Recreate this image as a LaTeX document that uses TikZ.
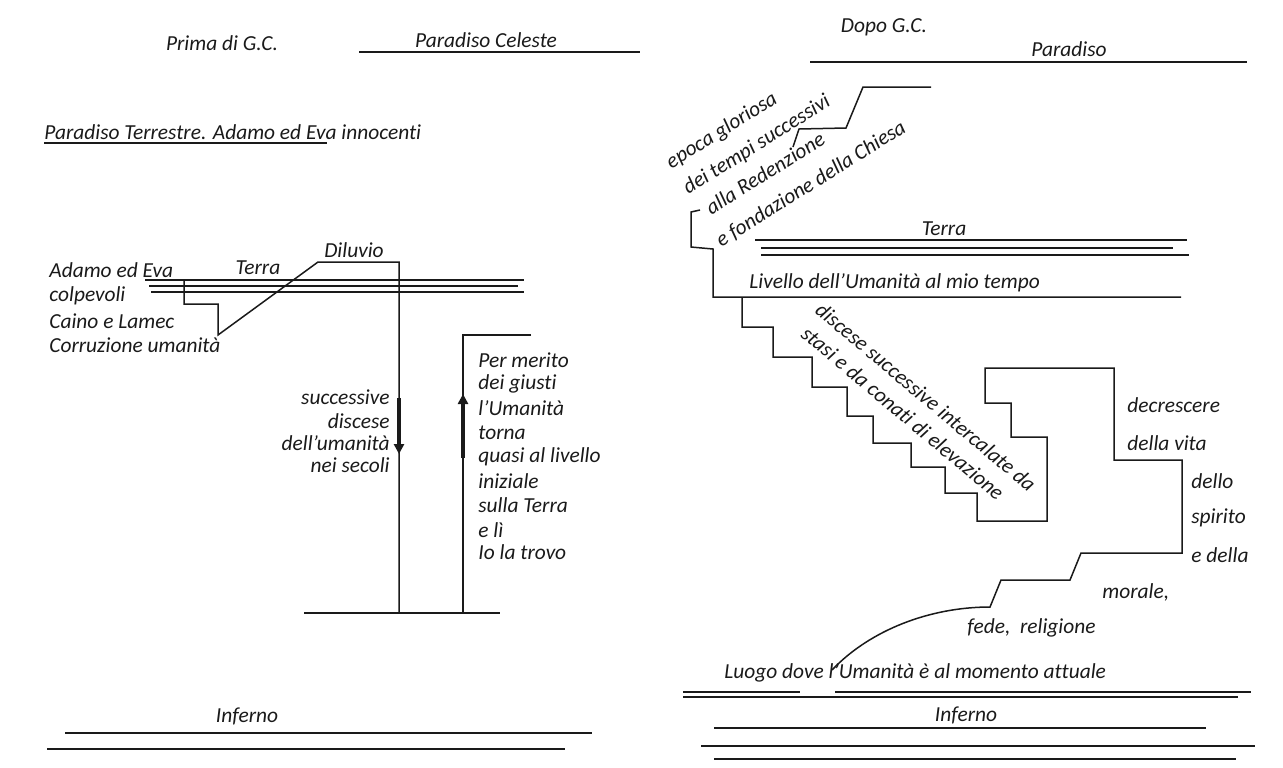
\documentclass[tikz,border=0pt]{standalone}
\usepackage{fontspec}
\setmainfont{Carlito}[Ligatures={TeX,NoCommon}]
\usetikzlibrary{arrows.meta}
\definecolor{ink}{HTML}{1A1A1A}
\tikzset{
  lbl/.style={inner sep=0pt, font=\fontsize{10.7}{12}\selectfont\itshape, text=ink},
  ln/.style={draw=ink, line width=0.75pt, line join=miter},
  thickarr/.style={draw=ink, line width=2pt, -{Triangle[length=5pt,width=5pt]}},
}
\begin{document}
\begin{tikzpicture}[x=0.5pt,y=-0.5pt]
\fill[white] (0,0) rectangle (1283,767);
\path[use as bounding box] (0,0) rectangle (1283,767);

% ================= LEFT PANEL =================
\node[lbl] (prima) at (222,43) {Prima di G.C.};
\node[lbl] (pcel) at (486,40) {Paradiso Celeste};
\draw[ln] (359,52) -- (640,52);

\node[lbl,anchor=west] (pter) at (44,132) {Paradiso Terrestre. Adamo ed Eva innocenti};
\draw[ln] (44,143) -- (327,143);

\node[lbl] (diluvio) at (354,250) {Diluvio};
\node[lbl,anchor=west] (l1) at (49,270) {Adamo ed Eva};
\node[lbl,anchor=west] (l2) at (49,296) {colpevoli};
\node[lbl,anchor=west] (l3) at (49,321) {Caino e Lamec};
\node[lbl,anchor=west] (l4) at (49,345) {Corruzione umanità};
\node[lbl] (terraL) at (258,268) {Terra};

\draw[ln] (145,280) -- (524,280);
\draw[ln] (149,286) -- (518,286);
\draw[ln] (151,292) -- (524,292);

\draw[ln] (184,280) -- (184,304) -- (218,304) -- (218,335) -- (318,262) -- (399,262) -- (399,613);
\draw[thickarr] (399,398) -- (399,454);

\node[lbl,anchor=east] (s1) at (390,397) {successive};
\node[lbl,anchor=east] (s2) at (390,421) {discese};
\node[lbl,anchor=east] (s3) at (390,443) {dell'umanità};
\node[lbl,anchor=east] (s4) at (390,465) {nei secoli};

\draw[ln] (531,335) -- (463,335) -- (463,613);
\draw[thickarr] (463,458) -- (463,394);

\node[lbl,anchor=west] (p1) at (478,360) {Per merito};
\node[lbl,anchor=west] (p2) at (478,384) {dei giusti};
\node[lbl,anchor=west] (p3) at (478,408) {l'Umanità};
\node[lbl,anchor=west] (p4) at (478,433) {torna};
\node[lbl,anchor=west] (p5) at (478,457) {quasi al livello};
\node[lbl,anchor=west] (p6) at (478,481) {iniziale};
\node[lbl,anchor=west] (p7) at (478,505) {sulla Terra};
\node[lbl,anchor=west] (p8) at (478,530) {e lì};
\node[lbl,anchor=west] (p9) at (478,552) {Io la trovo};

\draw[ln] (304,613) -- (500,613);

\node[lbl] (infL) at (247,716) {Inferno};
\draw[ln] (65,733) -- (592,733);
\draw[ln] (47,749) -- (565,749);

% ================= RIGHT PANEL =================
\node[lbl] (dopo) at (884,27) {Dopo G.C.};
\node[lbl] (par) at (1069,49) {Paradiso};
\draw[ln] (810,62) -- (1247,62);

\draw[ln] (931,87) -- (863,87) -- (846,128) -- (799,129) -- (793,147);

\node[lbl,rotate=32] (r1) at (722,131) {epoca gloriosa};
\node[lbl,rotate=32] (r2) at (757,145) {dei tempi successivi};
\node[lbl,rotate=32] (r3) at (765,173) {alla Redenzione};
\node[lbl,rotate=32] (r4) at (811,184) {e fondazione della Chiesa};

\node[lbl] (terraR) at (944,229) {Terra};
\draw[ln] (755,240) -- (1187,240);
\draw[ln] (761,248) -- (1173,248);
\draw[ln] (761,255) -- (1189,255);

\draw[ln] (700,210) -- (691,212) -- (691,247) -- (713,249) -- (713,297) -- (1181,297);
\node[lbl,anchor=west] (liv) at (749,283) {Livello dell'Umanità al mio tempo};

\draw[ln] (742,297) -- (742,327) -- (773,327) -- (773,357) -- (812,357) -- (812,387)
  -- (847,387) -- (847,416) -- (873,416) -- (873,443) -- (911,443) -- (911,467)
  -- (945,467) -- (945,493) -- (977,493) -- (977,521) -- (1047,521) -- (1047,437)
  -- (1011,437) -- (1011,403) -- (985,403) -- (985,368) -- (1114,368) -- (1114,460)
  -- (1182,460) -- (1182,553) -- (1081,553) -- (1070,580) -- (1001,580) -- (990,607)
  .. controls (930,607) and (870,630) .. (832,670);

\node[lbl,rotate=-40] (d1) at (926,397) {discese successive intercalate da};
\node[lbl,rotate=-40] (d2) at (903,413) {stasi e da conati di elevazione};

\node[lbl,anchor=west] (t1) at (1127,405) {decrescere};
\node[lbl,anchor=west] (t2) at (1127,443) {della vita};
\node[lbl,anchor=west] (t3) at (1191,481) {dello};
\node[lbl,anchor=west] (t4) at (1191,518) {spirito};
\node[lbl,anchor=west] (t5) at (1191,555) {e della};
\node[lbl,anchor=west] (t6) at (1102,592) {morale,};
\node[lbl,anchor=west] (t7) at (967,628) {fede,\ \ religione};

\node[lbl,anchor=west] (luogo) at (724,673) {Luogo dove l'Umanità è al momento attuale};
\draw[ln] (683,692) -- (800,692);
\draw[ln] (835,692) -- (1251,692);
\draw[ln] (683,697) -- (1238,697);

\node[lbl] (infR) at (966,715) {Inferno};
\draw[ln] (714,728) -- (1206,728);
\draw[ln] (701,746) -- (1255,746);
\draw[ln] (714,759) -- (1236,759);
\end{tikzpicture}
\end{document}
